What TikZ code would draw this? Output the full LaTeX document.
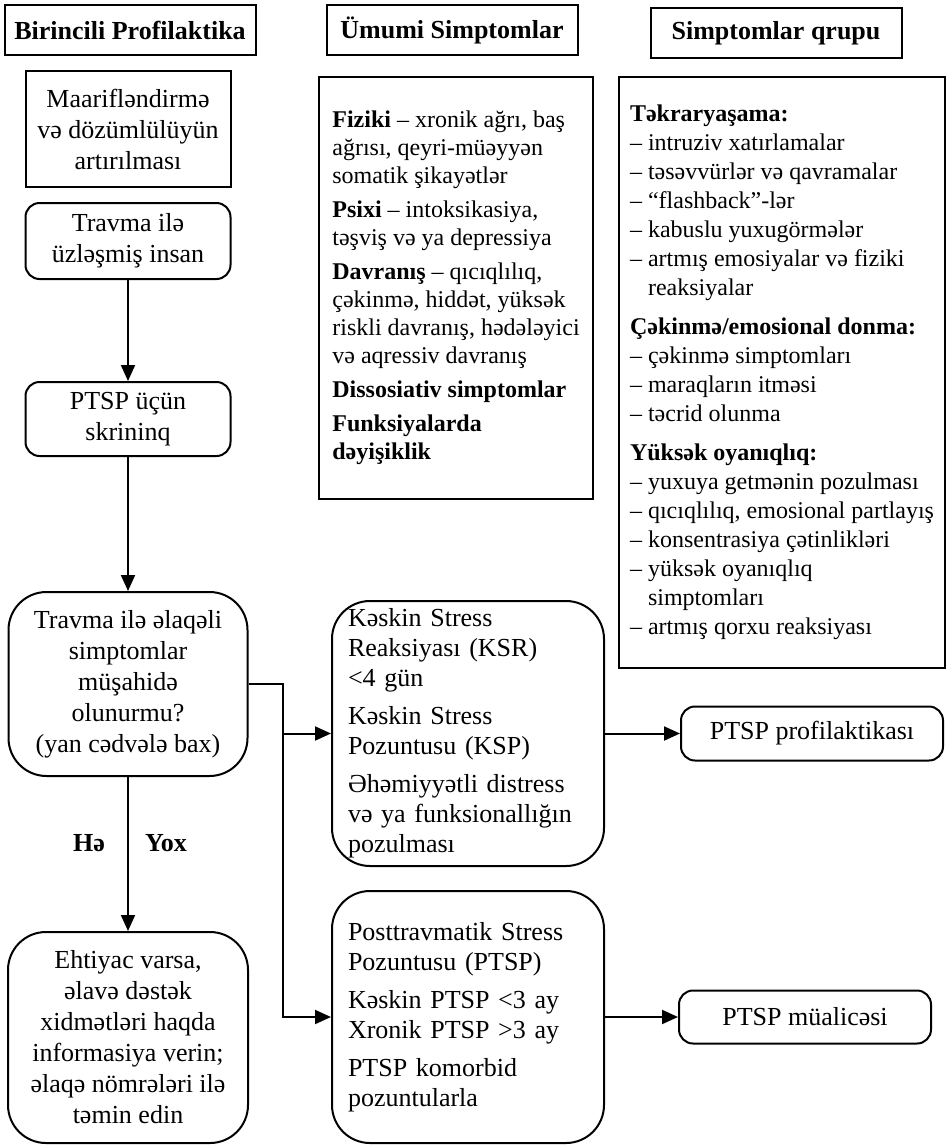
\documentclass[tikz,border=0pt]{standalone}
\usepackage{fontspec}
\setmainfont{Liberation Serif}
\usetikzlibrary{arrows.meta, positioning}

\begin{document}
\begin{tikzpicture}[
            > = {Triangle[length=8pt, width=7pt]}, % arrow head style
            x = 1pt, y = -1pt, % page units, y grows downwards
            node distance = 7pt, % distance between nodes
            line width = 1pt % line style
        ]

        \tikzstyle{heading}=[
            draw,
            font = \fontsize{13}{15.5}\selectfont\bfseries,
            minimum width = 125.5pt,
            minimum height = 25pt,
            inner sep = 0pt
        ]
        \tikzstyle{flow}=[
            draw,
            font = \fontsize{13}{15.5}\selectfont,
            align = center,
            inner sep = 0pt
        ]
        \tikzstyle{soft}=[flow, rounded corners = 7pt]
        \tikzstyle{bigsoft}=[flow, rounded corners = 19pt]
        \tikzstyle{sidebox}=[
            bigsoft,
            font = \fontsize{13}{15}\selectfont,
            align = left,
            text width = 120pt,
            inner xsep = 8pt,
            anchor = north west
        ]
        \tikzstyle{listing}=[
            draw,
            font = \fontsize{12}{14.5}\selectfont,
            align = left,
            inner ysep = 9pt,
            anchor = north west
        ]
        \tikzstyle{answer}=[font = \fontsize{13}{15.5}\selectfont\bfseries, inner sep = 0pt]

        \useasboundingbox (0,0) rectangle (475.5,573);

        % column headings
        \node[heading] (prim) at (65,15) {Birincili Profilaktika};
        \node[heading] (common) at (226,15) {Ümumi Simptomlar};
        \node[heading] (groups) at (388,16.5) {Simptomlar qrupu};

        % left column
        \node[flow, minimum width = 102.5pt, minimum height = 58pt] (educ) at (64,64.5) {Maarifləndirmə\\və dözümlülüyün\\artırılması};
        \node[soft, minimum width = 102.5pt, minimum height = 38pt] (person) [below = of educ] {Travma ilə\\üzləşmiş insan};
        \node[soft, minimum width = 102.5pt, minimum height = 37pt] (screen) [below = 50.5pt of person] {PTSP üçün\\skrininq};
        \node[bigsoft, minimum width = 119.5pt, minimum height = 92pt] (check) [below = 67pt of screen] {Travma ilə əlaqəli\\simptomlar\\müşahidə\\olunurmu?\\(yan cədvələ bax)};
        \node[bigsoft, minimum width = 120pt, minimum height = 105.5pt] (info) [below = 77pt of check] {Ehtiyac varsa,\\əlavə dəstək\\xidmətləri haqda\\informasiya verin;\\əlaqə nömrələri ilə\\təmin edin};

        % symptom lists
        \node[listing, font = \fontsize{12}{14}\selectfont, inner ysep = 17pt, minimum width = 137pt] (commonlist) at (159,38) {\textbf{Fiziki} – xronik ağrı, baş\\
            ağrısı, qeyri-müəyyən\\
            somatik şikayətlər\\[3pt]
            \textbf{Psixi} – intoksikasiya,\\
            təşviş və ya depressiya\\[3pt]
            \textbf{Davranış} – qıcıqlılıq,\\
            çəkinmə, hiddət, yüksək\\
            riskli davranış, hədələyici\\
            və aqressiv davranış\\[3pt]
            \textbf{Dissosiativ simptomlar}\\[3pt]
            \textbf{Funksiyalarda}\\
            \textbf{dəyişiklik}};
        \node[listing, minimum width = 163pt, minimum height = 295.5pt] (grouplist) at (309,38) {\textbf{Təkraryaşama:}\\
            – intruziv xatırlamalar\\
            – təsəvvürlər və qavramalar\\
            – “flashback”-lər\\
            – kabuslu yuxugörmələr\\
            – artmış emosiyalar və fiziki\\
            \hspace*{0.75em}reaksiyalar\\[5pt]
            \textbf{Çəkinmə/emosional donma:}\\
            – çəkinmə simptomları\\
            – maraqların itməsi\\
            – təcrid olunma\\[5pt]
            \textbf{Yüksək oyanıqlıq:}\\
            – yuxuya getmənin pozulması\\
            – qıcıqlılıq, emosional partlayış\\
            – konsentrasiya çətinlikləri\\
            – yüksək oyanıqlıq\\
            \hspace*{0.75em}simptomları\\
            – artmış qorxu reaksiyası};

        % diagnoses
        \node[sidebox, minimum height = 132.5pt] (ksr) at (165.5,300) {Kəskin Stress\\Reaksiyası (KSR)\\<4 gün\\[4pt]Kəskin Stress\\Pozuntusu (KSP)\\[4pt]Əhəmiyyətli distress\\və ya funksionallığın\\pozulması};
        \node[sidebox, minimum height = 126pt] (ptsp) at (165.5,445) {Posttravmatik Stress\\Pozuntusu (PTSP)\\[4pt]Kəskin PTSP <3 ay\\Xronik PTSP >3 ay\\[4pt]PTSP komorbid\\pozuntularla};
        \node[soft, minimum width = 131pt, minimum height = 27pt] (prevent) [right = 37.5pt of ksr] {PTSP profilaktikası};
        \node[soft, minimum width = 126pt, minimum height = 26.5pt] (treat) [right = 36.5pt of ptsp] {PTSP müalicəsi};

        \coordinate (bus) at (141.5,0);

        \draw[->] (person) -- (screen);
        \draw[->] (screen) -- (check);
        \draw[->] (check) -- (info)
            node[answer, pos = 0.43, left = 11pt] (yes) {Hə}
            node[answer, pos = 0.43, right = 8pt] (no) {Yox};
        \draw[->] (check.east) -| (bus |- ptsp.west) -- (ptsp.west);
        \draw[->] (bus |- ksr.west) -- (ksr.west);
        \draw[->] (ksr) -- (prevent);
        \draw[->] (ptsp) -- (treat);

\end{tikzpicture}
\end{document}
